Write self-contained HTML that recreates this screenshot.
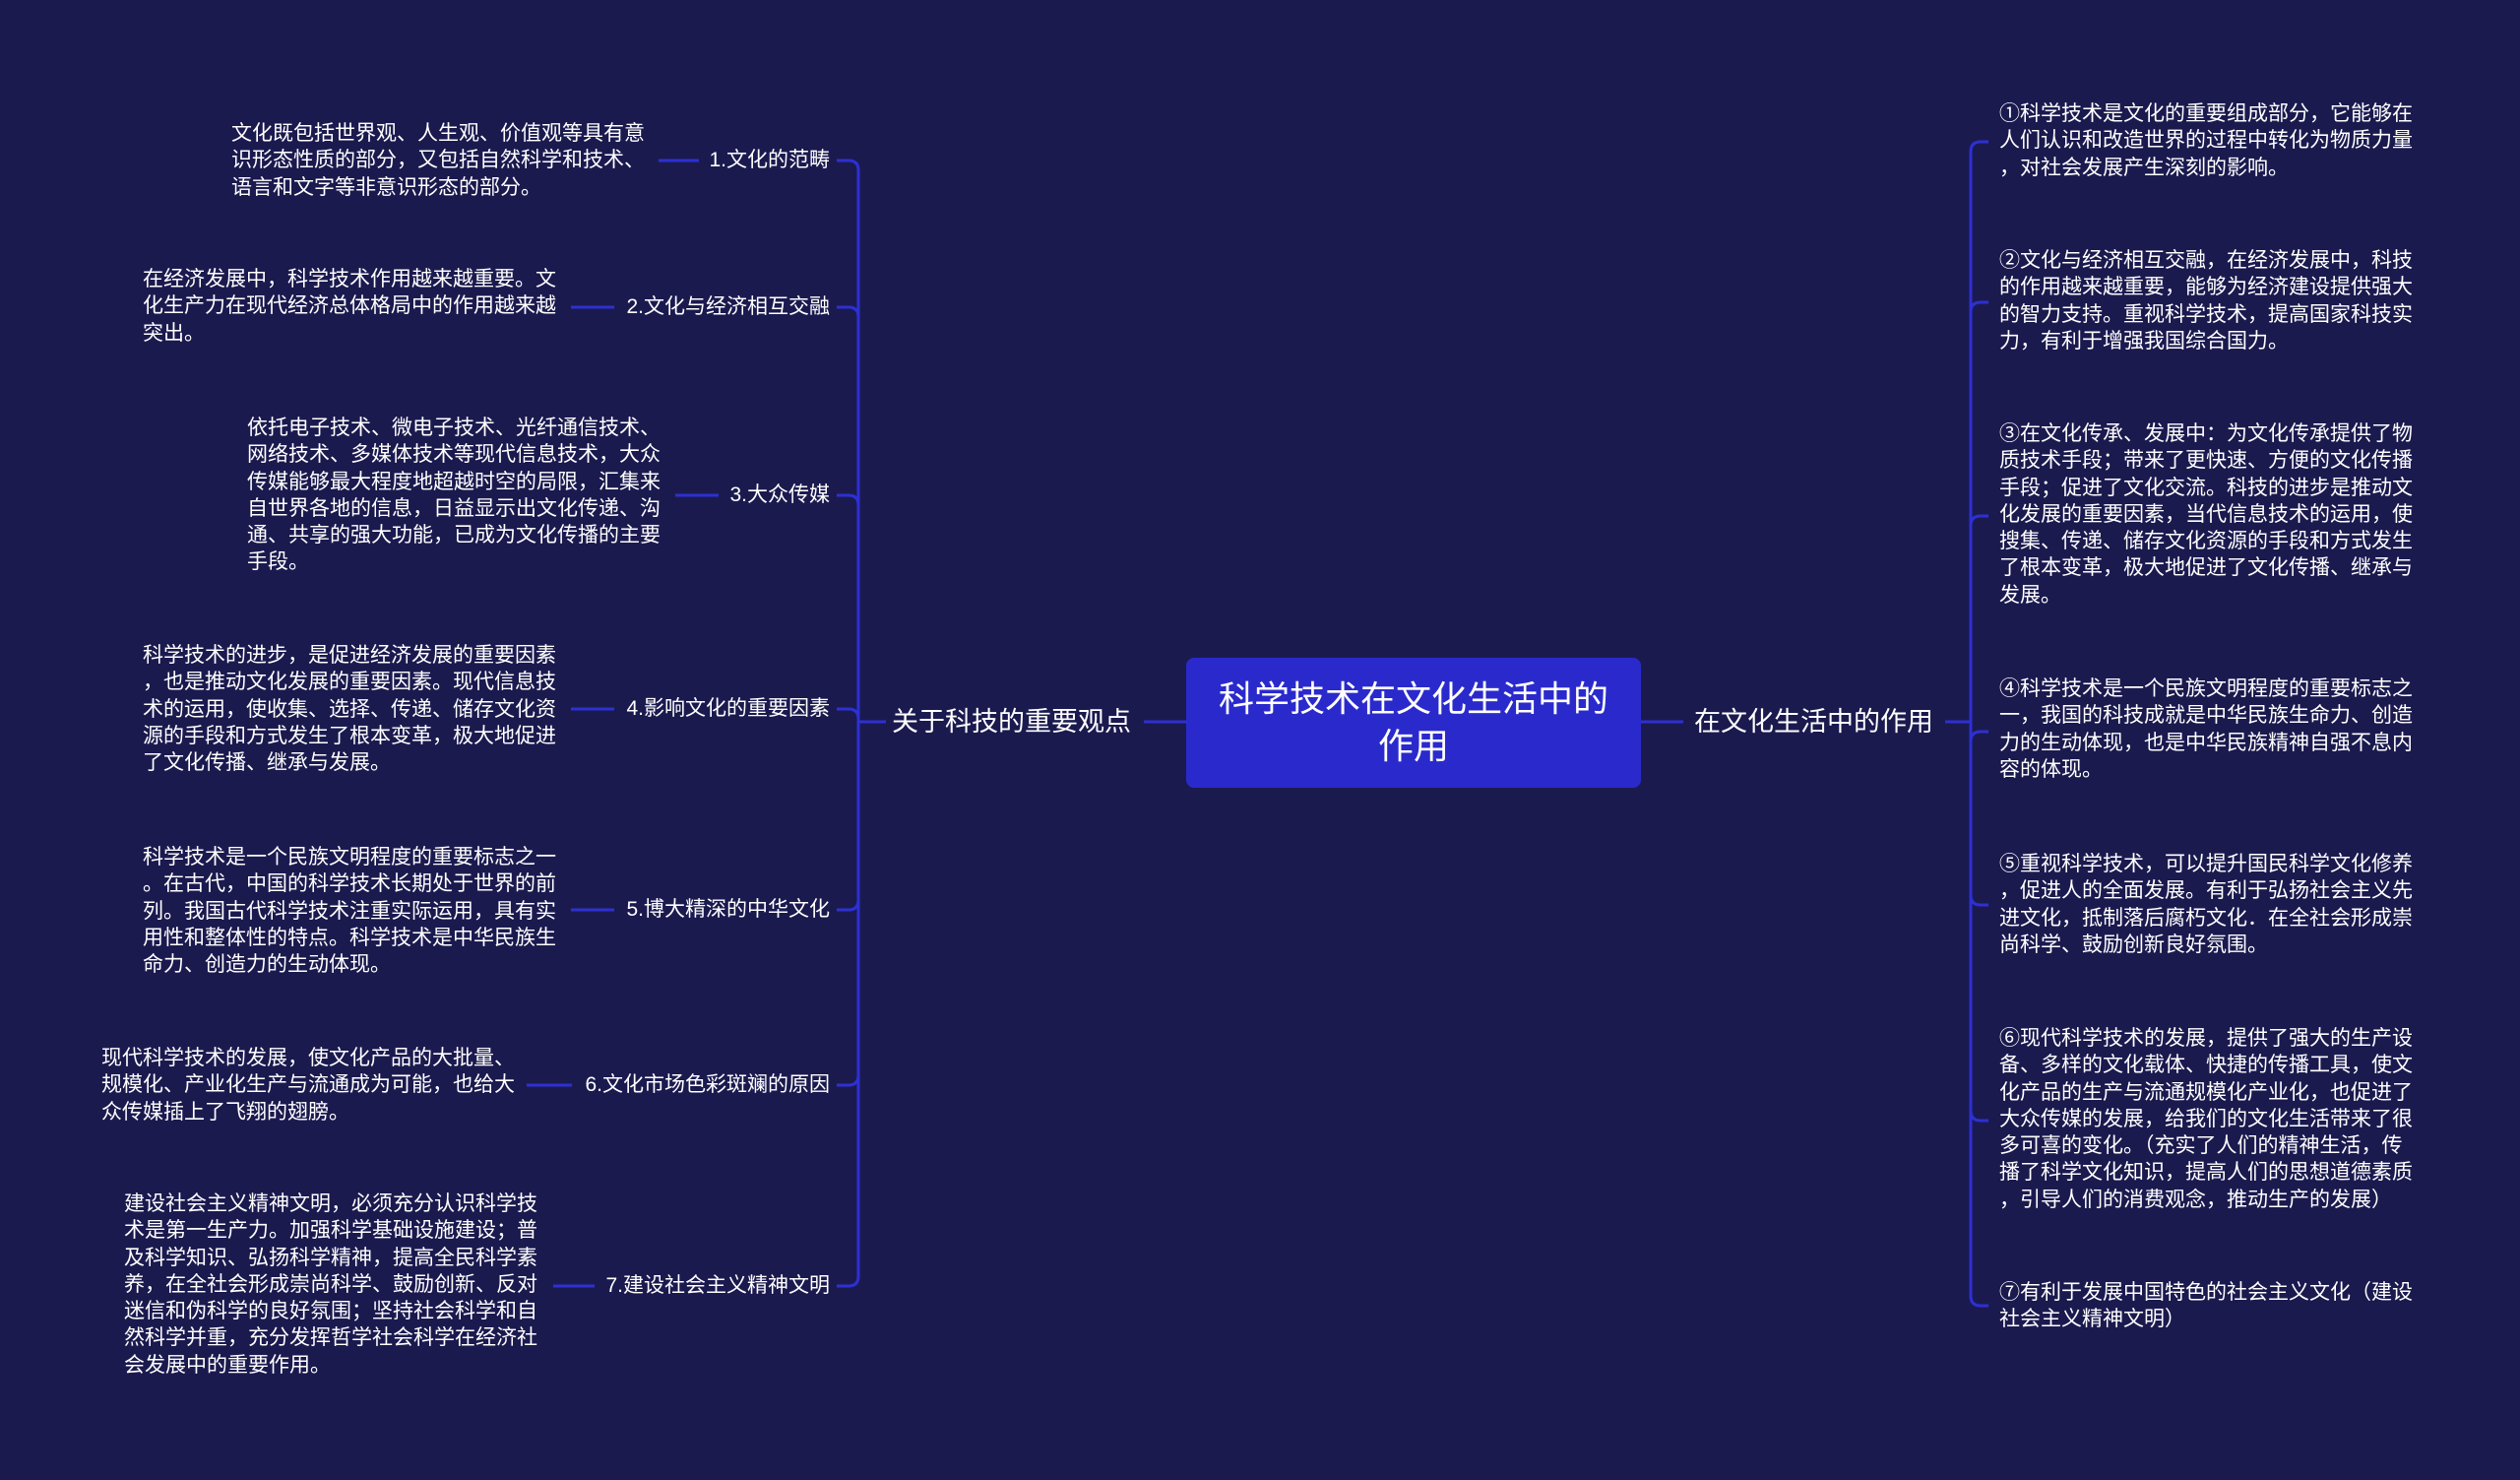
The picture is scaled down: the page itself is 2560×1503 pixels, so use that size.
<!DOCTYPE html>
<html><head><meta charset="utf-8">
<style>
html,body{margin:0;padding:0}
body{width:2560px;height:1503px;background:#1b1a4f;position:relative;overflow:hidden;font-family:"Liberation Sans","Noto Sans CJK SC",sans-serif;color:#fff}
.t{position:absolute;font-size:21px;line-height:27.3px;white-space:nowrap}
.l{position:absolute;font-size:21px;line-height:28px;white-space:nowrap;transform:translateY(-14px)}
svg{position:absolute;left:0;top:0}
</style></head><body>
<svg width="2560" height="1503" fill="none" stroke="#2d30d2" stroke-width="3">
<!-- center -> left label, left label -> spine -->
<line x1="1162" y1="733" x2="1205" y2="733"/>
<line x1="872" y1="733" x2="900" y2="733"/>
<!-- left children -->
<path d="M872 733 L872 173 Q872 163 862 163 L850 163"/>
<path d="M872 733 L872 322 Q872 312 862 312 L850 312"/>
<path d="M872 733 L872 513 Q872 503 862 503 L850 503"/>
<path d="M872 733 L872 730 Q872 720 862 720 L850 720"/>
<path d="M872 733 L872 914 Q872 924 862 924 L850 924"/>
<path d="M872 733 L872 1092 Q872 1102 862 1102 L850 1102"/>
<path d="M872 733 L872 1296 Q872 1306 862 1306 L850 1306"/>
<line x1="669" y1="163" x2="710" y2="163"/>
<line x1="580" y1="312" x2="624" y2="312"/>
<line x1="686" y1="503" x2="730" y2="503"/>
<line x1="580" y1="720" x2="624" y2="720"/>
<line x1="580" y1="924" x2="624" y2="924"/>
<line x1="535" y1="1102" x2="581" y2="1102"/>
<line x1="562" y1="1306" x2="604" y2="1306"/>
<!-- right -->
<line x1="1667" y1="733" x2="1710" y2="733"/>
<line x1="1976" y1="733" x2="2002" y2="733"/>
<path d="M2002 733 L2002 154 Q2002 144 2012 144 L2020 144"/>
<path d="M2002 733 L2002 317 Q2002 307 2012 307 L2020 307"/>
<path d="M2002 733 L2002 534 Q2002 524 2012 524 L2020 524"/>
<path d="M2002 733 L2002 753 Q2002 743 2012 743 L2020 743"/>
<path d="M2002 733 L2002 909 Q2002 919 2012 919 L2020 919"/>
<path d="M2002 733 L2002 1128 Q2002 1138 2012 1138 L2020 1138"/>
<path d="M2002 733 L2002 1316 Q2002 1326 2012 1326 L2020 1326"/>
</svg>

<div style="position:absolute;left:1205px;top:668px;width:462px;height:132px;background:#2a2acc;border-radius:8px;display:flex;align-items:center;justify-content:center;text-align:center;font-size:36px;line-height:48px">科学技术在文化生活中的<br>作用</div>
<div class="l" style="left:906px;top:733px;font-size:27px;line-height:34px;transform:translateY(-17px)">关于科技的重要观点</div>
<div class="l" style="left:1721px;top:733px;font-size:27px;line-height:34px;transform:translateY(-17px)">在文化生活中的作用</div>

<!-- left labels -->
<div class="l" style="right:1717px;top:163px">1.文化的范畴</div>
<div class="l" style="right:1717px;top:312px">2.文化与经济相互交融</div>
<div class="l" style="right:1717px;top:503px">3.大众传媒</div>
<div class="l" style="right:1717px;top:720px">4.影响文化的重要因素</div>
<div class="l" style="right:1717px;top:924px">5.博大精深的中华文化</div>
<div class="l" style="right:1717px;top:1102px">6.文化市场色彩斑斓的原因</div>
<div class="l" style="right:1717px;top:1306px">7.建设社会主义精神文明</div>

<!-- left texts -->
<div class="t" style="left:235px;top:122px">文化既包括世界观、人生观、价值观等具有意<br>识形态性质的部分，又包括自然科学和技术、<br>语言和文字等非意识形态的部分。</div>
<div class="t" style="left:145px;top:270px">在经济发展中，科学技术作用越来越重要。文<br>化生产力在现代经济总体格局中的作用越来越<br>突出。</div>
<div class="t" style="left:251px;top:421px">依托电子技术、微电子技术、光纤通信技术、<br>网络技术、多媒体技术等现代信息技术，大众<br>传媒能够最大程度地超越时空的局限，汇集来<br>自世界各地的信息，日益显示出文化传递、沟<br>通、共享的强大功能，已成为文化传播的主要<br>手段。</div>
<div class="t" style="left:145px;top:652px">科学技术的进步，是促进经济发展的重要因素<br>，也是推动文化发展的重要因素。现代信息技<br>术的运用，使收集、选择、传递、储存文化资<br>源的手段和方式发生了根本变革，极大地促进<br>了文化传播、继承与发展。</div>
<div class="t" style="left:145px;top:857px">科学技术是一个民族文明程度的重要标志之一<br>。在古代，中国的科学技术长期处于世界的前<br>列。我国古代科学技术注重实际运用，具有实<br>用性和整体性的特点。科学技术是中华民族生<br>命力、创造力的生动体现。</div>
<div class="t" style="left:103px;top:1061px">现代科学技术的发展，使文化产品的大批量、<br>规模化、产业化生产与流通成为可能，也给大<br>众传媒插上了飞翔的翅膀。</div>
<div class="t" style="left:126px;top:1209px">建设社会主义精神文明，必须充分认识科学技<br>术是第一生产力。加强科学基础设施建设；普<br>及科学知识、弘扬科学精神，提高全民科学素<br>养，在全社会形成崇尚科学、鼓励创新、反对<br>迷信和伪科学的良好氛围；坚持社会科学和自<br>然科学并重，充分发挥哲学社会科学在经济社<br>会发展中的重要作用。</div>

<!-- right texts -->
<div class="t" style="left:2031px;top:102px">①科学技术是文化的重要组成部分，它能够在<br>人们认识和改造世界的过程中转化为物质力量<br>，对社会发展产生深刻的影响。</div>
<div class="t" style="left:2031px;top:251px">②文化与经济相互交融，在经济发展中，科技<br>的作用越来越重要，能够为经济建设提供强大<br>的智力支持。重视科学技术，提高国家科技实<br>力，有利于增强我国综合国力。</div>
<div class="t" style="left:2031px;top:427px">③在文化传承、发展中：为文化传承提供了物<br>质技术手段；带来了更快速、方便的文化传播<br>手段；促进了文化交流。科技的进步是推动文<br>化发展的重要因素，当代信息技术的运用，使<br>搜集、传递、储存文化资源的手段和方式发生<br>了根本变革，极大地促进了文化传播、继承与<br>发展。</div>
<div class="t" style="left:2031px;top:686px">④科学技术是一个民族文明程度的重要标志之<br>一，我国的科技成就是中华民族生命力、创造<br>力的生动体现，也是中华民族精神自强不息内<br>容的体现。</div>
<div class="t" style="left:2031px;top:864px">⑤重视科学技术，可以提升国民科学文化修养<br>，促进人的全面发展。有利于弘扬社会主义先<br>进文化，抵制落后腐朽文化．在全社会形成崇<br>尚科学、鼓励创新良好氛围。</div>
<div class="t" style="left:2031px;top:1041px">⑥现代科学技术的发展，提供了强大的生产设<br>备、多样的文化载体、快捷的传播工具，使文<br>化产品的生产与流通规模化产业化，也促进了<br>大众传媒的发展，给我们的文化生活带来了很<br>多可喜的变化。（充实了人们的精神生活，传<br>播了科学文化知识，提高人们的思想道德素质<br>，引导人们的消费观念，推动生产的发展）</div>
<div class="t" style="left:2031px;top:1299px">⑦有利于发展中国特色的社会主义文化（建设<br>社会主义精神文明）</div>
</body></html>
